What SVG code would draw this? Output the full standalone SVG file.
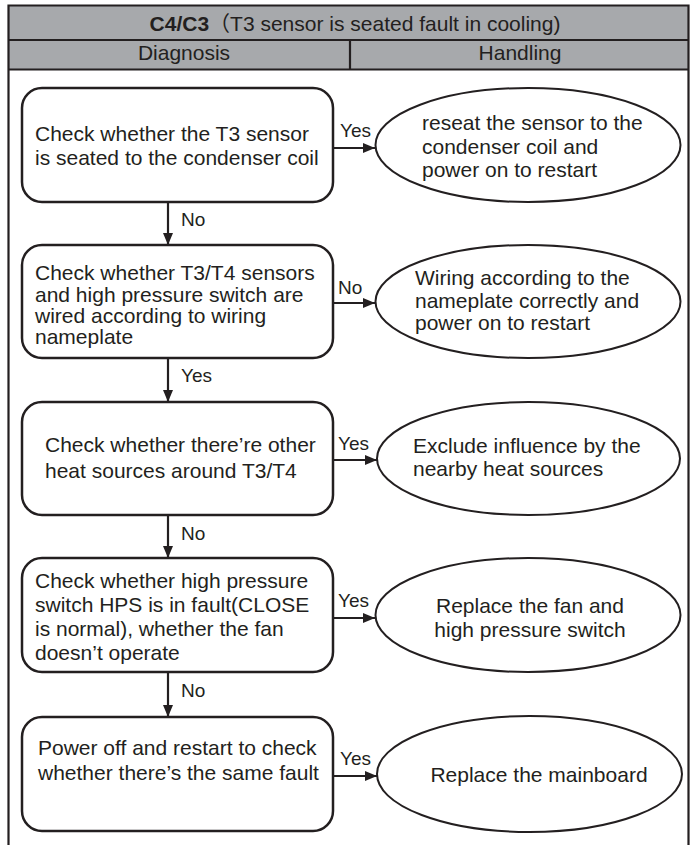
<svg xmlns="http://www.w3.org/2000/svg" width="696" height="845" viewBox="0 0 696 845">
<style>
text{font-family:"Liberation Sans",Arial,sans-serif;fill:#231f20}
.t{font-size:21px}
.h{font-size:21px;text-anchor:middle}
.l{font-size:19px}
.box{fill:#fff;stroke:#231f20;stroke-width:2.5}
.ell{fill:#fff;stroke:#231f20;stroke-width:2}
.con{stroke:#231f20;stroke-width:2.2;fill:none;marker-end:url(#ah)}
.frame{stroke:#231f20;stroke-width:2.2;fill:none}
</style>
<defs>
<marker id="ah" viewBox="0 0 12 10" refX="12" refY="5" markerWidth="12" markerHeight="10" markerUnits="userSpaceOnUse" orient="auto">
<path d="M0,0 L12,5 L0,10 z" fill="#231f20"/>
</marker>
</defs>
<g id="header">
<rect x="8.5" y="5.5" width="680" height="64" fill="#a7a9ac"/>
<path class="frame" d="M8.5,845 V5.5 H688.5 V845 M8.5,40 H688.5 M8.5,69.5 H688.5 M350,40 V69.5"/>
<text class="h" x="355" y="31"><tspan font-weight="bold">C4/C3</tspan><tspan font-family="'Noto Sans CJK SC',sans-serif">（</tspan>T3 sensor is seated fault in cooling)</text>
<text class="h" x="184" y="60">Diagnosis</text>
<text class="h" x="520" y="60">Handling</text>
</g>
<g id="connectors">
<line class="con" x1="333" y1="148" x2="375" y2="148"/>
<line class="con" x1="333" y1="303" x2="375" y2="303"/>
<line class="con" x1="333" y1="460" x2="377" y2="460"/>
<line class="con" x1="333" y1="618" x2="375" y2="618"/>
<line class="con" x1="333" y1="776" x2="377" y2="776"/>
<line class="con" x1="168" y1="202" x2="168" y2="245"/>
<line class="con" x1="168" y1="358" x2="168" y2="402"/>
<line class="con" x1="168" y1="515" x2="168" y2="558"/>
<line class="con" x1="168" y1="672" x2="168" y2="717"/>
<text class="l" x="340" y="137">Yes</text>
<text class="l" x="338" y="294">No</text>
<text class="l" x="338" y="450">Yes</text>
<text class="l" x="338" y="607">Yes</text>
<text class="l" x="340" y="765">Yes</text>
<text class="l" x="181" y="226">No</text>
<text class="l" x="181" y="382">Yes</text>
<text class="l" x="181" y="540">No</text>
<text class="l" x="181" y="697">No</text>
</g>
<g id="d1">
<rect class="box" x="22" y="88" width="311" height="114" rx="20"/>
<text class="t" x="35" y="140.5">Check whether the T3 sensor</text>
<text class="t" x="35" y="165">is seated to the condenser coil</text>
</g>
<g id="h1">
<ellipse class="ell" cx="528" cy="145" rx="152.5" ry="57"/>
<text class="t" x="422" y="130">reseat the sensor to the</text>
<text class="t" x="422" y="154">condenser coil and</text>
<text class="t" x="422" y="177">power on to restart</text>
</g>
<g id="d2">
<rect class="box" x="22" y="245" width="311" height="113" rx="20"/>
<text class="t" x="35" y="280">Check whether T3/T4 sensors</text>
<text class="t" x="35" y="301.5">and high pressure switch are</text>
<text class="t" x="35" y="322.5">wired according to wiring</text>
<text class="t" x="35" y="343.5">nameplate</text>
</g>
<g id="h2">
<ellipse class="ell" cx="528" cy="301.5" rx="152.5" ry="56.5"/>
<text class="t" x="415" y="285">Wiring according to the</text>
<text class="t" x="415" y="307.5">nameplate correctly and</text>
<text class="t" x="415" y="330">power on to restart</text>
</g>
<g id="d3">
<rect class="box" x="22" y="402" width="311" height="113" rx="20"/>
<text class="t" x="45" y="452">Check whether there’re other</text>
<text class="t" x="45" y="478">heat sources around T3/T4</text>
</g>
<g id="h3">
<ellipse class="ell" cx="528.5" cy="458.5" rx="151.5" ry="56.5"/>
<text class="t" x="413" y="453">Exclude influence by the</text>
<text class="t" x="413" y="476">nearby heat sources</text>
</g>
<g id="d4">
<rect class="box" x="22" y="558" width="311" height="114" rx="20"/>
<text class="t" x="35" y="588">Check whether high pressure</text>
<text class="t" x="35" y="612">switch HPS is in fault(CLOSE</text>
<text class="t" x="35" y="636">is normal), whether the fan</text>
<text class="t" x="35" y="660">doesn’t operate</text>
</g>
<g id="h4">
<ellipse class="ell" cx="528" cy="615" rx="152.5" ry="57"/>
<text class="h" x="530" y="613">Replace the fan and</text>
<text class="h" x="530" y="637">high pressure switch</text>
</g>
<g id="d5">
<rect class="box" x="22" y="717" width="311" height="114" rx="20"/>
<text class="t" x="38" y="755">Power off and restart to check</text>
<text class="t" x="38" y="780">whether there’s the same fault</text>
</g>
<g id="h5">
<ellipse class="ell" cx="529.5" cy="774" rx="152.5" ry="58"/>
<text class="h" x="539" y="782">Replace the mainboard</text>
</g>
</svg>
